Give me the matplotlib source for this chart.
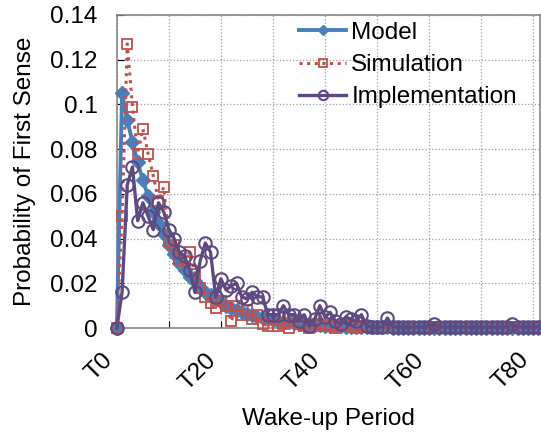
import numpy as np
import matplotlib
matplotlib.use("Agg")
import matplotlib.pyplot as plt
from matplotlib.ticker import MultipleLocator, FuncFormatter

plt.rcParams['font.family'] = ['Liberation Sans', 'DejaVu Sans']

# wake-up period index (T0 .. T81)
periods = list(range(82))

model = [
    0.0, 0.105, 0.093, 0.083, 0.074, 0.066, 0.059, 0.052, 0.047, 0.042,
    0.037, 0.033, 0.029, 0.026, 0.023, 0.021, 0.018, 0.016, 0.015, 0.013,
    0.0115, 0.010, 0.0092, 0.0082, 0.0073, 0.0065, 0.0058, 0.0051, 0.0046, 0.0041,
    0.0036, 0.0032, 0.0029, 0.0026, 0.0023, 0.0020, 0.0018, 0.0016, 0.0014, 0.0013,
    0.0011, 0.0010, 0.0009, 0.0008, 0.0007, 0.0006, 0.0006, 0.0005, 0.0004, 0.0004,
    0.0003, 0.0003, 0.0003, 0.0002, 0.0002, 0.0002, 0.0002, 0.0001, 0.0001, 0.0001,
    0.0001, 0.0001, 0.0001, 0.0001, 0.0, 0.0, 0.0, 0.0, 0.0, 0.0,
    0.0, 0.0, 0.0, 0.0, 0.0, 0.0, 0.0, 0.0, 0.0, 0.0,
    0.0, 0.0,
]

simulation = [
    0.0, 0.050, 0.127, 0.099, 0.078, 0.089, 0.078, 0.068, 0.057, 0.063,
    0.039, 0.037, 0.031, 0.030, 0.034, 0.024, 0.018, 0.014, 0.011, 0.009,
    0.012, 0.010, 0.003, 0.010, 0.006, 0.008, 0.004, 0.006, 0.002, 0.001,
    0.004, 0.001, 0.002, 0.0, 0.003, 0.002, 0.001, 0.0, 0.002, 0.001,
    0.002, 0.001, 0.0, 0.001, 0.002, 0.001, 0.0, 0.001, 0.0003, 0.0003,
    0.0003, 0.0003, 0.0003, 0.0003, 0.0003, 0.0003, 0.0003, 0.0003, 0.0003, 0.0003,
    0.0003, 0.0003, 0.0003, 0.0003, 0.0003, 0.0003, 0.0003, 0.0003, 0.0003, 0.0003,
    0.0003, 0.0003, 0.0003, 0.0003, 0.0003, 0.0003, 0.0003, 0.0003, 0.0003, 0.0003,
    0.0003, 0.0003,
]

implementation = [
    0.0, 0.016, 0.064, 0.072, 0.048, 0.056, 0.050, 0.044, 0.056, 0.052,
    0.044, 0.040, 0.034, 0.032, 0.026, 0.016, 0.030, 0.038, 0.034, 0.014,
    0.022, 0.017, 0.019, 0.020, 0.014, 0.013, 0.016, 0.014, 0.014, 0.006,
    0.006, 0.006, 0.010, 0.006, 0.006, 0.003, 0.006, 0.001, 0.004, 0.010,
    0.005, 0.007, 0.003, 0.002, 0.005, 0.004, 0.003, 0.006, 0.001, 0.0005,
    0.0005, 0.0005, 0.0045, 0.0005, 0.0005, 0.0005, 0.0005, 0.0005, 0.0005, 0.0005,
    0.0005, 0.002, 0.0005, 0.0005, 0.0005, 0.0005, 0.0005, 0.0005, 0.0005, 0.0005,
    0.0005, 0.0005, 0.0005, 0.0005, 0.0005, 0.0005, 0.002, 0.0005, 0.0005, 0.0005,
    0.0005, 0.0005,
]

fs = 17.5

fig = plt.figure(figsize=(5.41, 4.34), dpi=100)
ax = fig.add_axes([0.216, 0.244, 0.782, 0.722])

ax.plot(periods, model, color='#4A7EBB', linewidth=2.8, marker='D', markersize=7,
        label='Model', clip_on=False, zorder=3)
ax.plot(periods, simulation, color='#C0504D', linewidth=2.2, linestyle=(0, (1, 1.5)),
        marker='s', markersize=7, markerfacecolor='none', markeredgewidth=1.3,
        label='Simulation', clip_on=False, zorder=4)
ax.plot(periods, implementation, color='#5E4A80', linewidth=2.4, marker='o', markersize=9,
        markerfacecolor='none', markeredgewidth=1.5, label='Implementation',
        clip_on=False, zorder=5)

ax.set_xlim(0, 81.3)
ax.set_ylim(0, 0.14)
ax.xaxis.set_major_locator(MultipleLocator(10))
ax.yaxis.set_major_locator(MultipleLocator(0.02))
ax.xaxis.set_major_formatter(FuncFormatter(lambda v, p: f"T{int(round(v))}" if int(round(v)) % 20 == 0 else ""))
ax.yaxis.set_major_formatter(FuncFormatter(lambda v, p: f"{v:g}" if v != 0 else "0"))

ax.grid(True, color='#A0A0A0', linestyle=':', linewidth=0.9)
ax.set_axisbelow(True)
for s in ax.spines.values():
    s.set_color('#888888')
    s.set_linewidth(1.2)

ax.tick_params(axis='x', direction='in', length=5, pad=15, labelsize=fs, labelrotation=45)
ax.tick_params(axis='y', direction='in', length=5, pad=14, labelsize=fs)
for lbl in ax.get_xticklabels():
    lbl.set_ha('right')
    lbl.set_va('top')
    lbl.set_rotation_mode('default')

ax.set_xlabel('Wake-up Period', fontsize=fs, labelpad=10)
ax.set_ylabel('Probability of First Sense', fontsize=fs, labelpad=10)

ax.legend(loc='upper left', bbox_to_anchor=(0.425, 0.985), frameon=False, fontsize=fs,
          handlelength=1.95, handletextpad=0.2, labelspacing=0.42, borderaxespad=0.0,
          borderpad=0.1, numpoints=1, markerscale=0.75)

fig.savefig('out.png', dpi=100)
